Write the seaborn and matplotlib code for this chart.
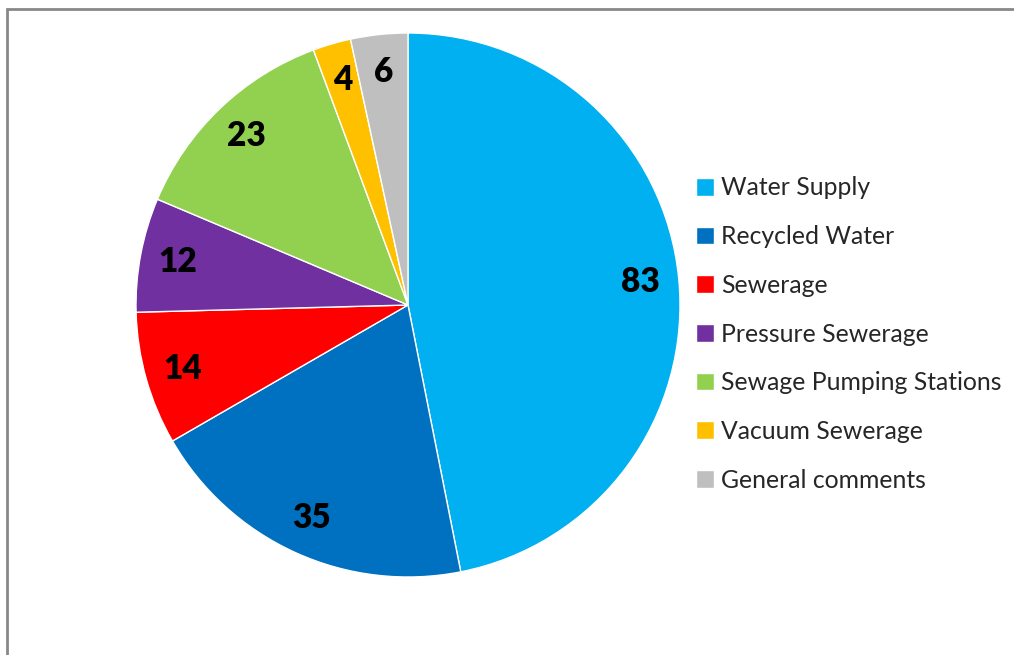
import matplotlib
matplotlib.use("Agg")
import matplotlib.pyplot as plt
from matplotlib.patches import Rectangle
import seaborn as sns

# data
categories = ["Water Supply", "Recycled Water", "Sewerage", "Pressure Sewerage",
              "Sewage Pumping Stations", "Vacuum Sewerage", "General comments"]
counts = [83, 35, 14, 12, 23, 4, 6]
colours = ["#00B0F0", "#0070C0", "#FF0000", "#7030A0", "#92D050", "#FFC000", "#BFBFBF"]

sns.set_theme(style="white")
plt.rcParams['font.family'] = ['Lato', 'DejaVu Sans']

W, H = 1014, 655
fig = plt.figure(figsize=(W / 100, H / 100), dpi=100)

# pie centre ~ (408, 305) px, radius ~ 272 px
cx, cy, r = 408, 305, 272
ax = fig.add_axes([(cx - r) / W, (H - cy - r) / H, 2 * r / W, 2 * r / H])

total = sum(counts)
wedges, _, autotexts = ax.pie(
    counts,
    colors=sns.color_palette(colours),
    startangle=90,
    counterclock=False,
    autopct=lambda p: f"{round(p * total / 100):d}",
    pctdistance=0.86,
    wedgeprops=dict(edgecolor="white", linewidth=1),
    textprops=dict(fontsize=24, fontweight="heavy", color="black"),
)
ax.set_xlim(-1, 1)
ax.set_ylim(-1, 1)
ax.set_aspect("equal")

leg = fig.legend(
    wedges, categories,
    loc="center left",
    bbox_to_anchor=(696 / W, 1 - 334 / H),
    frameon=False,
    fontsize=17.8,
    handlelength=0.72,
    handleheight=0.72,
    handletextpad=0.3,
    labelspacing=1.04,
    borderpad=0,
    borderaxespad=0,
)

# chart-area frame, only top and left edges visible in the reference
fig.patches.append(Rectangle((6.5 / W, -0.5), 1.5, 1 - 8.5 / H + 0.5,
                             transform=fig.transFigure, fill=False,
                             edgecolor="#888888", linewidth=2))

fig.savefig("out.png", dpi=100, facecolor="white")
